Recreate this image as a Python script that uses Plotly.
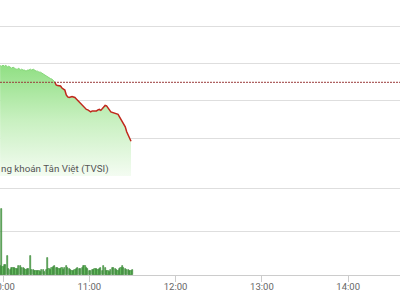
import pandas as pd
import plotly.graph_objects as go

# ---------------- data ----------------
day = "2024-01-01"
start_time = "09:58"
# index price, one point per minute from 09:58 to 11:30
price = [
    1291.79, 1291.73, 1291.84, 1291.73, 1291.84, 1291.63, 1291.73, 1291.63,
    1291.52, 1291.63, 1291.52, 1291.41, 1291.41, 1291.52, 1291.31, 1291.41,
    1291.31, 1291.31, 1291.20, 1291.31, 1291.31, 1291.41, 1291.31, 1291.41,
    1291.31, 1291.20, 1291.20, 1291.09, 1291.09, 1290.99, 1290.88, 1290.77,
    1290.67, 1290.56, 1290.45, 1290.40, 1290.35, 1290.24, 1290.03,
    1289.71, 1289.65, 1289.60, 1289.60, 1289.39, 1289.28, 1289.17, 1288.64,
    1288.43, 1288.37, 1288.43, 1288.48, 1288.43, 1288.37, 1288.21, 1288.05,
    1287.89, 1287.73, 1287.57, 1287.41, 1287.20, 1287.09, 1287.04, 1286.88,
    1286.83, 1286.93, 1286.93, 1286.99, 1286.93, 1287.04, 1287.09, 1286.99,
    1287.20, 1287.36, 1287.52, 1287.47, 1287.20, 1287.04, 1286.83, 1286.77,
    1286.72, 1286.72, 1286.67, 1286.56, 1286.29, 1286.03, 1285.71, 1285.49,
    1285.23, 1284.69, 1284.37, 1283.95, 1283.68,
]
reference = 1290.0
# matched volume per minute (millions of shares)
volume = [
    0.44, 3.07, 0.37, 0.49, 0.47, 0.91, 0.28, 0.26, 0.33, 0.33, 0.33, 0.30,
    0.28, 0.44, 0.40, 0.35, 0.33, 0.28, 0.26, 0.29, 0.28, 0.87, 0.26, 0.26,
    0.21, 0.21, 0.18, 0.19, 0.16, 0.23, 0.26, 0.16, 0.23, 0.80, 0.28, 0.26,
    0.33, 0.37, 0.40, 0.35, 0.33, 0.30, 0.28, 0.33, 0.26, 0.33, 0.42, 0.33,
    0.28, 0.26, 0.19, 0.21, 0.23, 0.29, 0.33, 0.30, 0.28, 0.35, 0.40, 0.42,
    0.33, 0.29, 0.21, 0.19, 0.26, 0.23, 0.28, 0.29, 0.26, 0.28, 0.33, 0.18,
    0.44, 0.33, 0.21, 0.19, 0.16, 0.23, 0.33, 0.35, 0.30, 0.26, 0.18, 0.28,
    0.35, 0.40, 0.33, 0.28, 0.23, 0.26, 0.21, 0.19, 0.26,
]
tick_times = ["10:00", "11:00", "12:00", "13:00", "14:00"]
x_start = "09:57:55"
x_end = "14:36:01"
source_text = "ng khoán Tân Việt (TVSI)"

# ---------------- build ----------------
times = pd.date_range(f"{day} {start_time}", periods=len(price), freq="1min")
vtimes = pd.date_range(f"{day} {start_time}", periods=len(volume), freq="1min")

FONT = "Roboto, sans-serif"
GRID = "#dedede"

fig = go.Figure()

# gradient area under the price line
fig.add_trace(go.Scatter(
    x=times, y=price, mode="lines", line=dict(width=0, color="rgba(0,0,0,0)"),
    fill="tozeroy",
    fillgradient=dict(type="vertical", start=1280, stop=1292,
                      colorscale=[[0, "#f4fcf2"], [0.5, "#c8f0c0"], [1, "#8fdf82"]]),
    hoverinfo="skip", showlegend=False, xaxis="x", yaxis="y",
))

# split line: green above reference, red below
up_x, up_y, dn_x, dn_y = [], [], [], []
for i, (t, p) in enumerate(zip(times, price)):
    if p >= reference:
        up_x.append(t); up_y.append(p)
    else:
        if not dn_x and i > 0:
            dn_x.append(times[i - 1]); dn_y.append(price[i - 1])
        dn_x.append(t); dn_y.append(p)

fig.add_trace(go.Scatter(x=up_x, y=up_y, mode="lines",
                         line=dict(color="#86d77a", width=1),
                         showlegend=False, xaxis="x", yaxis="y"))
fig.add_trace(go.Scatter(x=dn_x, y=dn_y, mode="lines",
                         line=dict(color="#c0281c", width=1.5),
                         showlegend=False, xaxis="x", yaxis="y"))

# reference dotted line
fig.add_trace(go.Scatter(x=[pd.Timestamp(f"{day} {x_start}"), pd.Timestamp(f"{day} {x_end}")],
                         y=[reference, reference], mode="lines",
                         line=dict(color="#9a3b3b", width=1, dash="2px,1px"),
                         showlegend=False, xaxis="x", yaxis="y"))

# volume bars
fig.add_trace(go.Bar(x=vtimes, y=volume, width=50000,
                     marker=dict(color="#6cc466", line=dict(color="#2f7a2c", width=0.6)),
                     showlegend=False, xaxis="x2", yaxis="y2"))

xr = [f"{day} {x_start}", f"{day} {x_end}"]
fig.update_layout(
    width=400, height=300,
    margin=dict(l=0, r=0, t=0, b=25, autoexpand=False),
    paper_bgcolor="white", plot_bgcolor="white",
    font=dict(family=FONT, size=9, color="#666"),
    bargap=0,
    xaxis=dict(type="date", range=xr, domain=[0, 1], anchor="y",
               showticklabels=False, showgrid=False, zeroline=False,
               showline=False, ticks=""),
    yaxis=dict(domain=[0.36, 1], range=[1279.95, 1298.83], tick0=1280, dtick=4,
               showticklabels=False, gridcolor=GRID, gridwidth=1, zeroline=False),
    xaxis2=dict(type="date", range=xr, domain=[0, 1], anchor="y2",
                tickvals=[pd.Timestamp(f"{day} {t}") for t in tick_times],
                ticktext=tick_times, ticks="outside", ticklen=6, tickcolor="#cccccc",
                showline=True, linecolor="#cccccc", showgrid=False, zeroline=False,
                ticklabeloverflow="allow", ticklabelstandoff=-3, automargin=False,
                tickfont=dict(family=FONT, size=9.5, color="#666")),
    yaxis2=dict(domain=[0, 0.3167], range=[0, 4.05], dtick=2, tick0=0,
                showticklabels=False, gridcolor=GRID, gridwidth=1, zeroline=False),
    annotations=[dict(text=source_text, xref="paper", yref="paper",
                      x=0, y=(275 - 169) / 275, xanchor="left", yanchor="middle",
                      borderpad=0, showarrow=False,
                      font=dict(family=FONT, size=9.8, color="#555"))],
)

fig.write_html("out.html")
